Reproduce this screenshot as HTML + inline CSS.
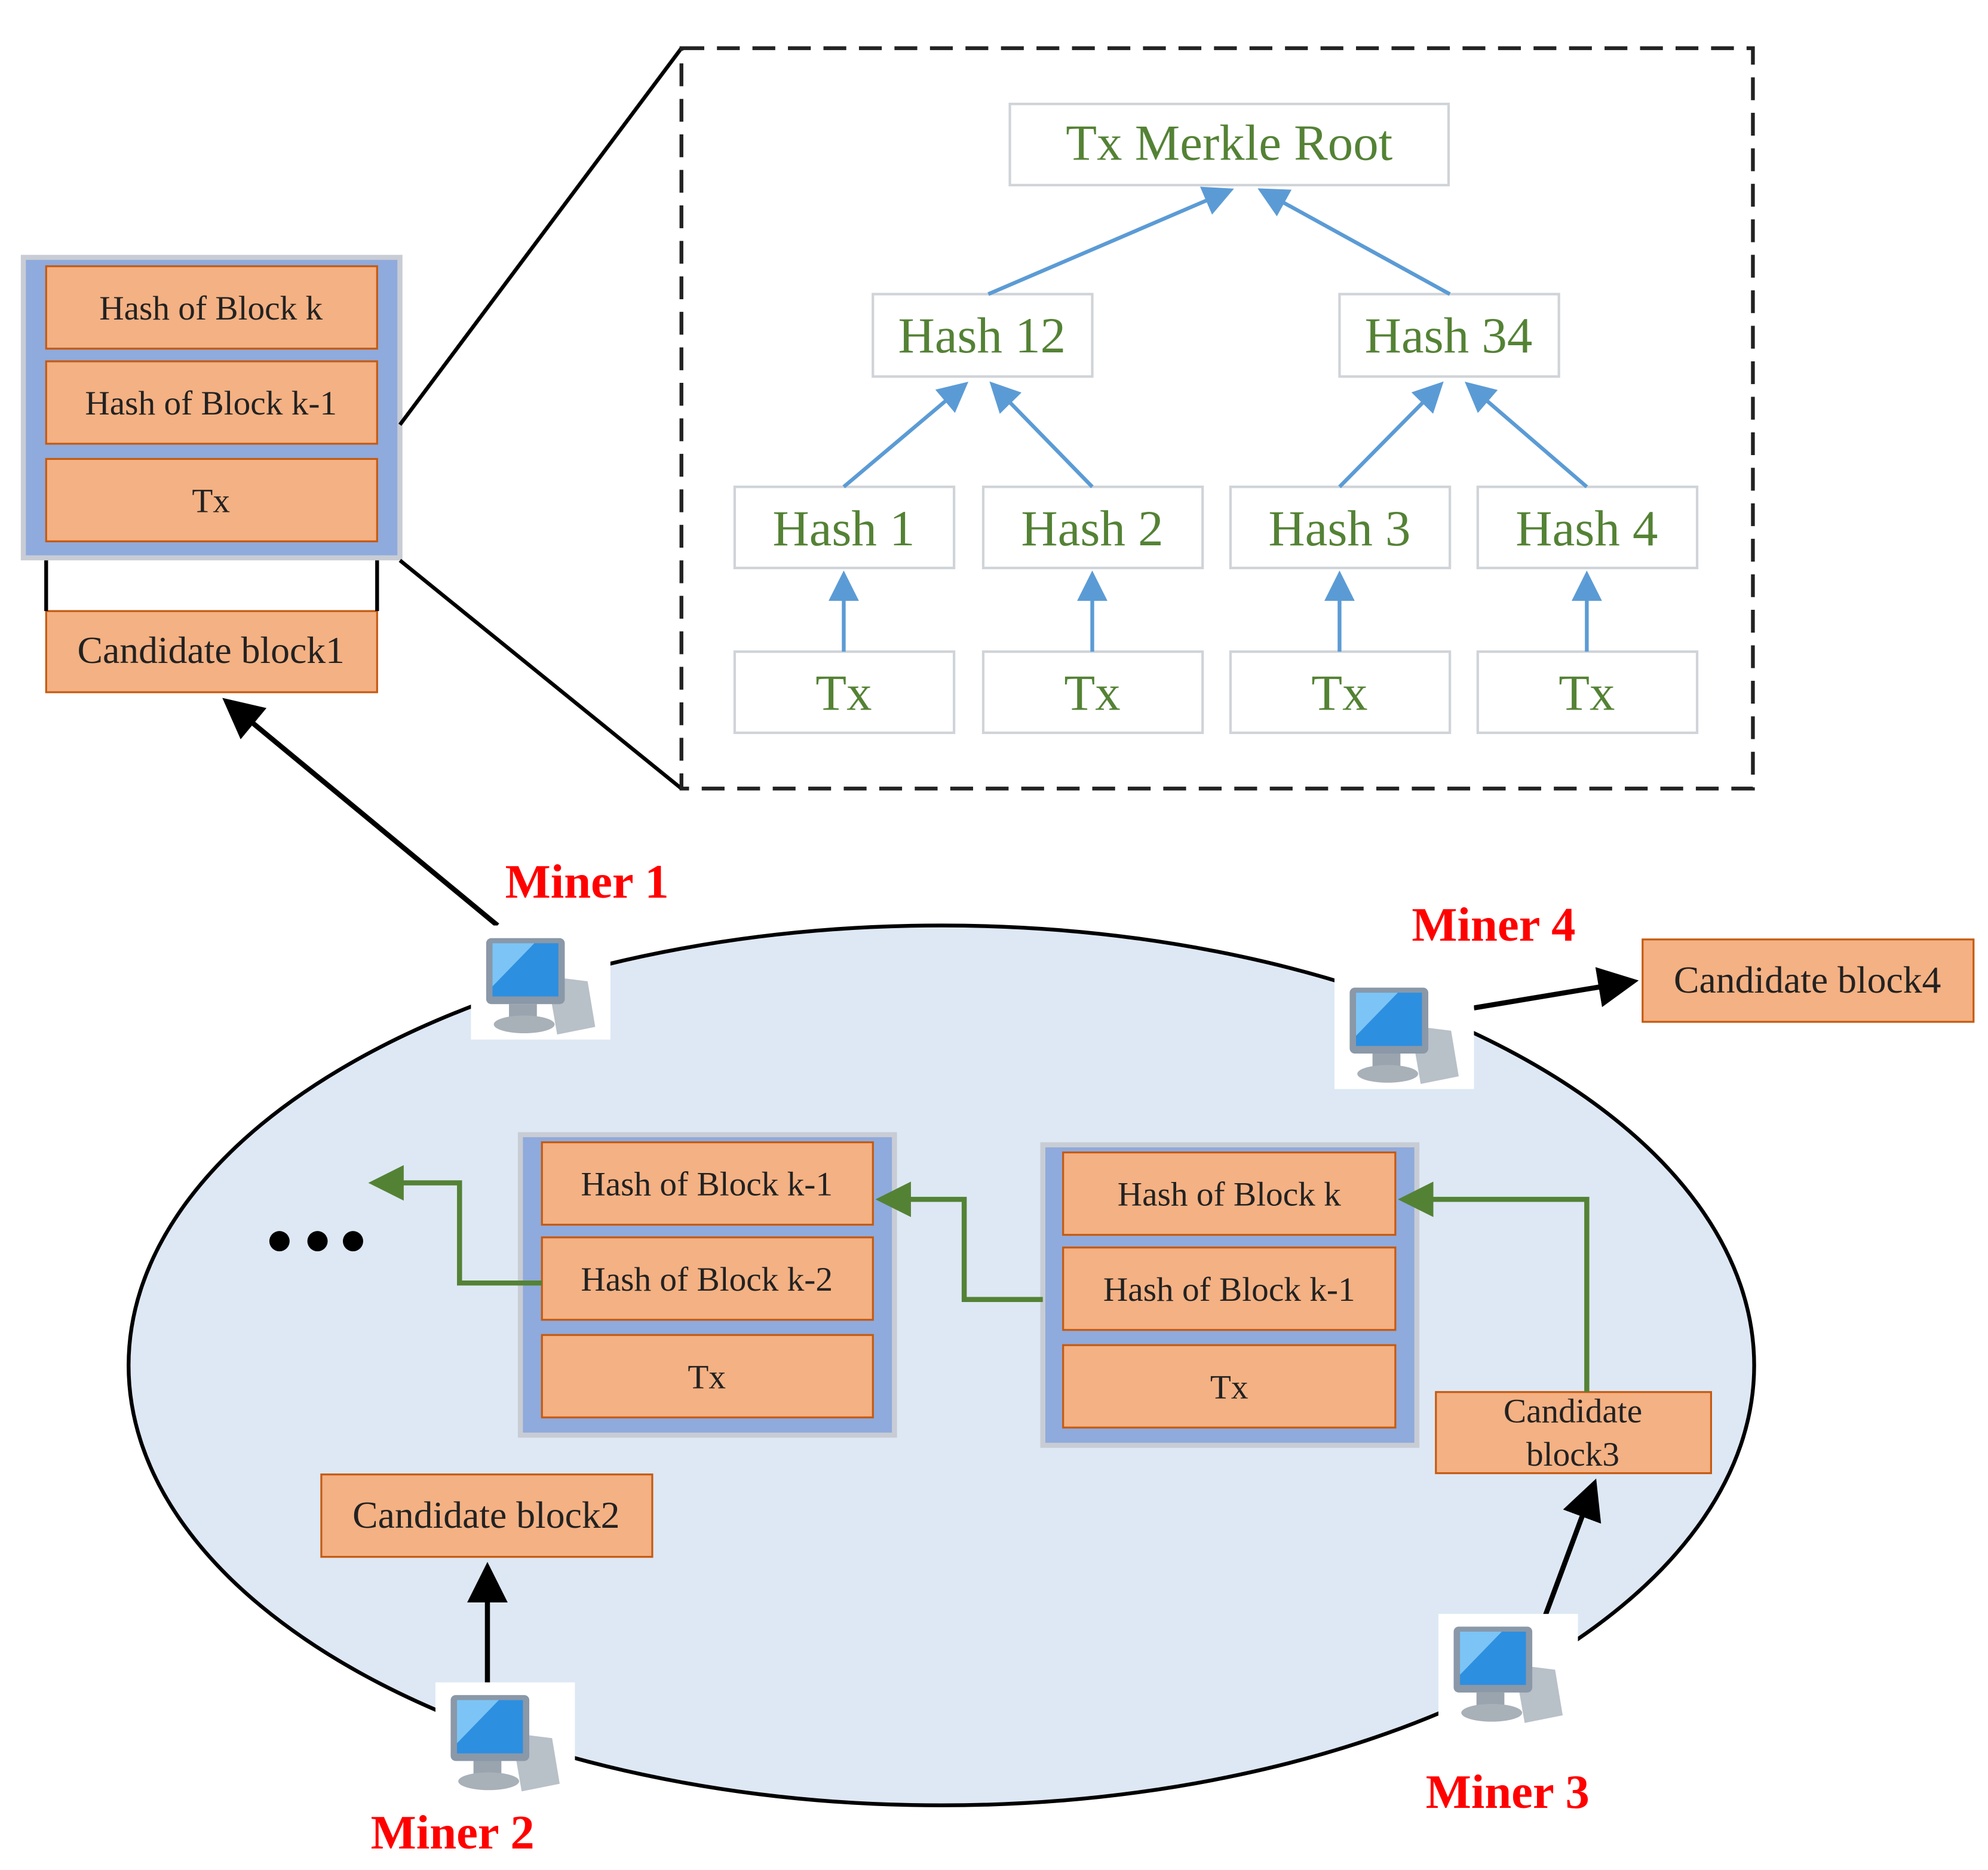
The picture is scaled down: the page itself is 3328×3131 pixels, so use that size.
<!DOCTYPE html>
<html><head><meta charset="utf-8"><style>html,body{margin:0;padding:0;background:#fff}svg{display:block}</style></head>
<body>
<svg width="3328" height="3131" viewBox="0 0 1567 1475" xmlns="http://www.w3.org/2000/svg" font-family="Liberation Serif, serif">
<defs>
<marker id="bk" markerWidth="8" markerHeight="8" refX="7" refY="4" orient="auto" markerUnits="strokeWidth"><path d="M0,0 L8,4 L0,8 z" fill="#000"/></marker>
<marker id="bl" markerWidth="8" markerHeight="8" refX="7" refY="4" orient="auto" markerUnits="strokeWidth"><path d="M0,0 L8,4 L0,8 z" fill="#5b9bd5"/></marker>
<marker id="gr" markerWidth="7" markerHeight="7" refX="6" refY="3.5" orient="auto" markerUnits="strokeWidth"><path d="M0,0 L7,3.5 L0,7 z" fill="#548235"/></marker>
<g id="pc">
<rect x="0" y="0" width="110" height="90" fill="#fff"/>
<path d="M60,40 L92,44 L98,80 L68,86 z" fill="#b8c0c8"/>
<rect x="12" y="10" width="62" height="52" rx="4" fill="#8a98a8"/>
<rect x="17" y="14" width="52" height="42" fill="#2d8fe0"/>
<path d="M17,14 L50,14 L17,48 z" fill="#7cc4f5"/>
<rect x="30" y="62" width="22" height="10" fill="#9aa4ae"/>
<ellipse cx="42" cy="78" rx="24" ry="7" fill="#a8b0b8"/>
</g>
</defs>

<rect x="18" y="203" width="297" height="237" fill="#8faadc" stroke="#c8ccd4" stroke-width="4"/>
<g fill="#f4b183" stroke="#c55a11" stroke-width="1.5">
<rect x="36" y="210" width="261" height="65"/>
<rect x="36" y="285" width="261" height="65"/>
<rect x="36" y="362" width="261" height="65"/>
<rect x="36" y="482" width="261" height="64"/>
</g>
<g font-size="27" text-anchor="middle" fill="#222">
<text x="166" y="252">Hash of Block k</text>
<text x="166" y="327">Hash of Block k-1</text>
<text x="166" y="404">Tx</text>
<text x="166" y="523" font-size="30">Candidate block1</text>
</g>
<path d="M36,442 V482 M297,442 V482" stroke="#000" stroke-width="3"/>
<path d="M315,335 L537,38 M315,442 L537,622" stroke="#000" stroke-width="3"/>

<rect x="537" y="38" width="845" height="584" fill="none" stroke="#222" stroke-width="3" stroke-dasharray="18,10"/>
<g fill="#fff" stroke="#d0d4d8" stroke-width="2">
<rect x="796" y="82" width="346" height="64"/>
<rect x="688" y="232" width="173" height="65"/>
<rect x="1056" y="232" width="173" height="65"/>
<rect x="579" y="384" width="173" height="64"/><rect x="775" y="384" width="173" height="64"/>
<rect x="970" y="384" width="173" height="64"/><rect x="1165" y="384" width="173" height="64"/>
<rect x="579" y="514" width="173" height="64"/><rect x="775" y="514" width="173" height="64"/>
<rect x="970" y="514" width="173" height="64"/><rect x="1165" y="514" width="173" height="64"/>
</g>
<g font-size="40" text-anchor="middle" fill="#548235">
<text x="969" y="126">Tx Merkle Root</text>
<text x="774" y="278">Hash 12</text><text x="1142" y="278">Hash 34</text>
<text x="665" y="430">Hash 1</text><text x="861" y="430">Hash 2</text>
<text x="1056" y="430">Hash 3</text><text x="1251" y="430">Hash 4</text>
<text x="665" y="560">Tx</text><text x="861" y="560">Tx</text>
<text x="1056" y="560">Tx</text><text x="1251" y="560">Tx</text>
</g>
<g stroke="#5b9bd5" stroke-width="3" marker-end="url(#bl)">
<line x1="779" y1="232" x2="970" y2="150"/><line x1="1143" y1="232" x2="994" y2="150"/>
<line x1="665" y1="384" x2="761" y2="303"/><line x1="861" y1="384" x2="782" y2="303"/>
<line x1="1056" y1="384" x2="1136" y2="303"/><line x1="1251" y1="384" x2="1157" y2="303"/>
<line x1="665" y1="514" x2="665" y2="453"/><line x1="861" y1="514" x2="861" y2="453"/>
<line x1="1056" y1="514" x2="1056" y2="453"/><line x1="1251" y1="514" x2="1251" y2="453"/>
</g>

<ellipse cx="742" cy="1077" rx="641" ry="347" fill="#dde8f4" stroke="#000" stroke-width="3"/>

<rect x="410" y="895" width="295" height="237" fill="#8faadc" stroke="#c8ccd4" stroke-width="4"/>
<rect x="822" y="903" width="295" height="237" fill="#8faadc" stroke="#c8ccd4" stroke-width="4"/>
<g fill="#f4b183" stroke="#c55a11" stroke-width="1.5">
<rect x="427" y="901" width="261" height="65"/><rect x="427" y="976" width="261" height="65"/><rect x="427" y="1053" width="261" height="65"/>
<rect x="838" y="909" width="262" height="65"/><rect x="838" y="984" width="262" height="65"/><rect x="838" y="1061" width="262" height="65"/>
<rect x="253" y="1163" width="261" height="65"/>
<rect x="1132" y="1098" width="217" height="64"/>
<rect x="1295" y="741" width="261" height="65"/>
</g>
<g font-size="27" text-anchor="middle" fill="#222">
<text x="557" y="943">Hash of Block k-1</text><text x="557" y="1018">Hash of Block k-2</text><text x="557" y="1095">Tx</text>
<text x="969" y="951">Hash of Block k</text><text x="969" y="1026">Hash of Block k-1</text><text x="969" y="1103">Tx</text>
<text x="383" y="1205" font-size="30">Candidate block2</text>
<text x="1240" y="1122">Candidate</text><text x="1240" y="1156">block3</text>
<text x="1425" y="783" font-size="30">Candidate block4</text>
</g>
<g fill="none" stroke="#548235" stroke-width="4" marker-end="url(#gr)">
<path d="M427,1012 H362 V933 H294"/>
<path d="M822,1025 H760 V946 H694"/>
<path d="M1251,1098 V946 H1106"/>
</g>
<circle cx="220" cy="979" r="8"/><circle cx="250" cy="979" r="8"/><circle cx="278" cy="979" r="8"/>

<g stroke="#000" stroke-width="4" marker-end="url(#bk)">
<line x1="392" y1="730" x2="178" y2="553"/>
<line x1="384" y1="1330" x2="384" y2="1236"/>
<line x1="1218" y1="1275" x2="1257" y2="1170"/>
<line x1="1162" y1="795" x2="1288" y2="774"/>
</g>

<use href="#pc" x="371" y="730"/>
<use href="#pc" x="1052" y="769"/>
<use href="#pc" x="343" y="1327"/>
<use href="#pc" x="1134" y="1273"/>

<g font-size="38" font-weight="bold" fill="#ff0000">
<text x="398" y="708">Miner 1</text>
<text x="1113" y="742">Miner 4</text>
<text x="292" y="1458">Miner 2</text>
<text x="1124" y="1426">Miner 3</text>
</g>
</svg>
</body></html>
